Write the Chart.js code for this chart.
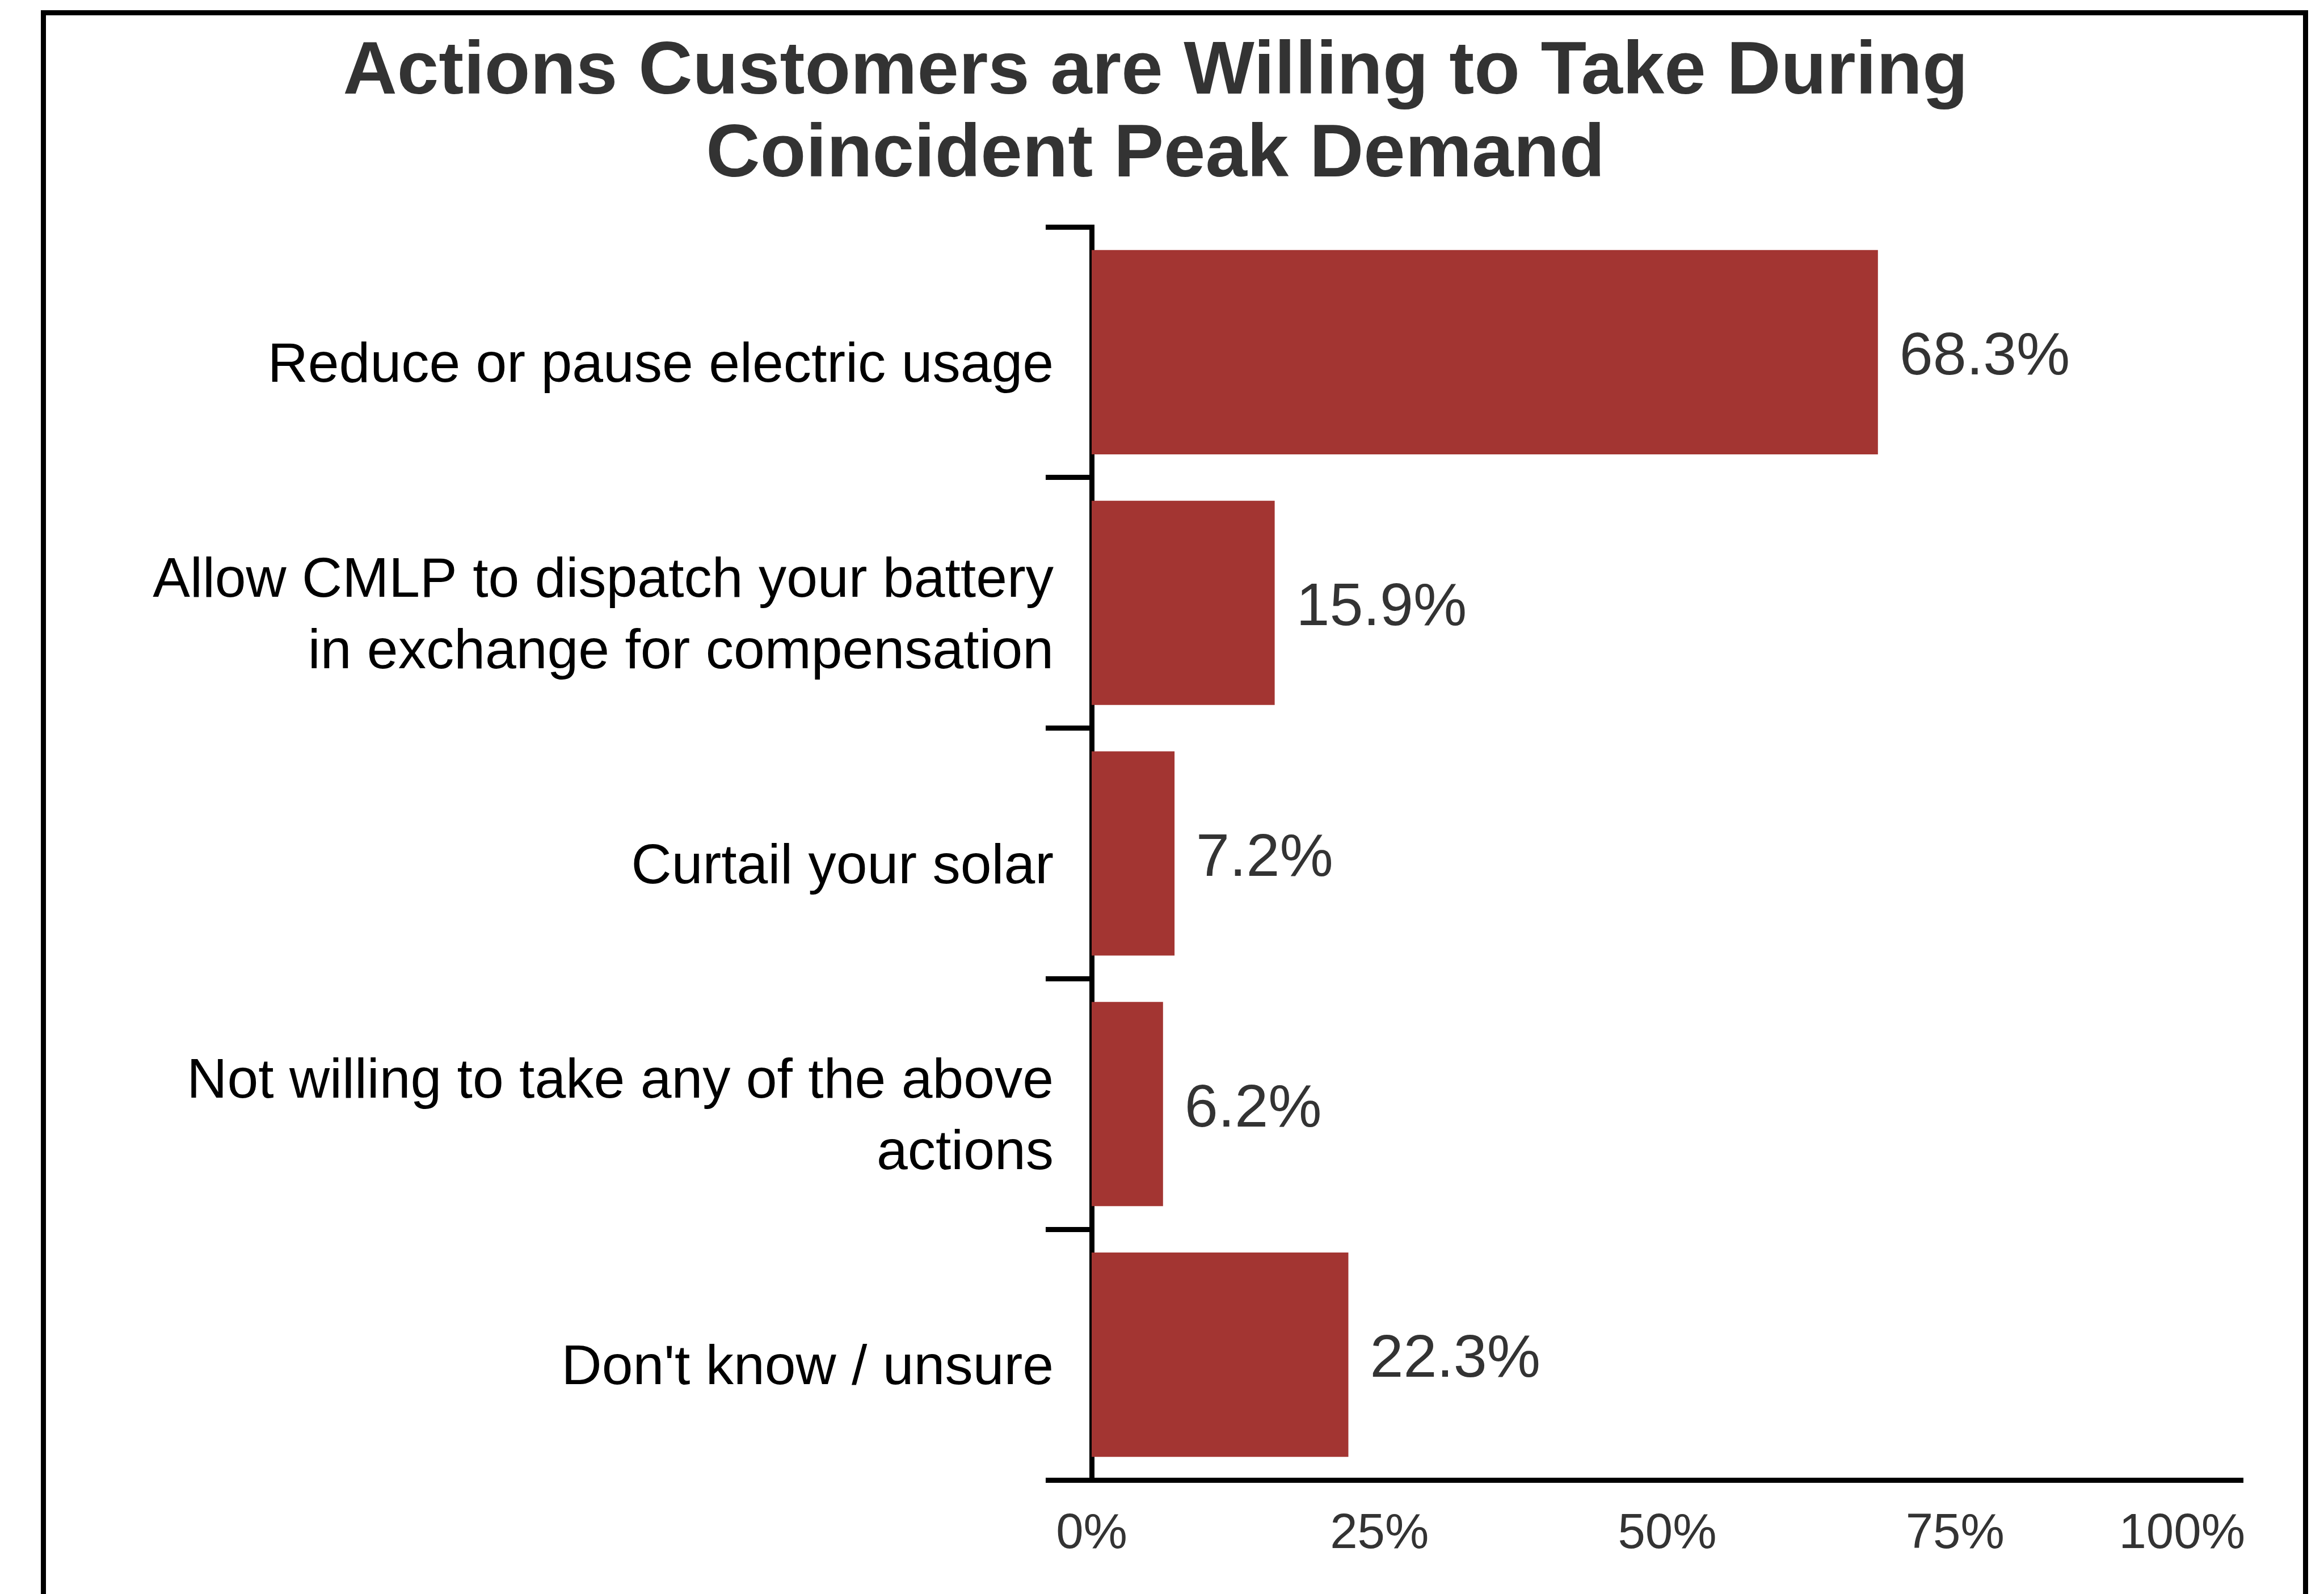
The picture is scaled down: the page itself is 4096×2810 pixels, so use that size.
<!DOCTYPE html>
<html>
<head>
<meta charset="utf-8">
<script src="https://cdn.jsdelivr.net/npm/chart.js@4.4.1/dist/chart.umd.min.js"></script>
<style>
  html, body { margin: 0; padding: 0; background: #ffffff; }
  #wrap { width: 4096px; height: 2810px; }
</style>
</head>
<body>
<div id="wrap"><canvas id="chart" width="4096" height="2810"></canvas></div>
<script>
// Survey results: share of customers willing to take each action
const titleLines = ['Actions Customers are Willing to Take During', 'Coincident Peak Demand'];
const categories = [
  'Reduce or pause electric usage',
  ['Allow CMLP to dispatch your battery', 'in exchange for compensation'],
  'Curtail your solar',
  ['Not willing to take any of the above', 'actions'],
  "Don't know / unsure"
];
const shares = [68.3, 15.9, 7.2, 6.2, 22.3];
const axisTicks = [0, 25, 50, 75, 100];
const axisTickLabels = ['0%', '25%', '50%', '75%', '100%'];

// Layout (px)
const FONT = "'Liberation Sans', Arial, Helvetica, sans-serif";
const PLOT_LEFT = 1924, PLOT_RIGHT = 3953, PLOT_TOP = 400, PLOT_BOTTOM = 2609;
const PAD_LEFT = 120, PAD_TOP = 56;
const TITLE_SIZE = 132, TITLE_LH = 146;
const X_TICK_SIZE = 87, X_TICK_PAD = 44, X_TICK_LH = 1.2;
const BAR_COLOR = '#A33532';
const LINE_W = 9;

Chart.defaults.font.family = FONT;

// White page with a black frame that runs off the bottom edge
const framePlugin = {
  id: 'frame',
  beforeDraw(chart) {
    const ctx = chart.ctx;
    ctx.save();
    ctx.fillStyle = '#ffffff';
    ctx.fillRect(0, 0, chart.width, chart.height);
    ctx.strokeStyle = '#000000';
    ctx.lineWidth = LINE_W;
    ctx.strokeRect(76.5, 22.5, 4063.5 - 76.5, 3200);
    ctx.restore();
  }
};

// Percentage labels at the end of each bar, plus the last axis label kept inside the axis
const valueLabelPlugin = {
  id: 'valueLabels',
  afterDatasetsDraw(chart) {
    const ctx = chart.ctx;
    const meta = chart.getDatasetMeta(0);
    ctx.save();
    ctx.font = `106px ${FONT}`;
    ctx.fillStyle = '#333333';
    ctx.textAlign = 'left';
    ctx.textBaseline = 'middle';
    meta.data.forEach((bar, i) => {
      ctx.fillText(shares[i].toFixed(1) + '%', bar.x + 38, bar.y + 10);
    });
    ctx.restore();
  },
  afterDraw(chart) {
    const xs = chart.scales.x;
    const last = xs.ticks[xs.ticks.length - 1];
    const ctx = chart.ctx;
    ctx.save();
    ctx.font = `${X_TICK_SIZE}px ${FONT}`;
    ctx.fillStyle = '#333333';
    ctx.textAlign = 'right';
    ctx.textBaseline = 'middle';
    ctx.fillText(axisTickLabels[axisTicks.indexOf(last.value)], xs.right + 4,
      xs.top + X_TICK_PAD + X_TICK_SIZE * X_TICK_LH / 2);
    ctx.restore();
  }
};

new Chart(document.getElementById('chart'), {
  type: 'bar',
  data: {
    labels: categories,
    datasets: [{
      data: shares,
      backgroundColor: BAR_COLOR,
      borderWidth: 0,
      barPercentage: 0.815,
      categoryPercentage: 1.0
    }]
  },
  options: {
    indexAxis: 'y',
    responsive: false,
    devicePixelRatio: 1,
    animation: false,
    layout: {
      padding: { left: PAD_LEFT, right: 4096 - PLOT_RIGHT, top: PAD_TOP, bottom: 0 }
    },
    plugins: {
      legend: { display: false },
      tooltip: { enabled: false },
      title: {
        display: true,
        text: titleLines,
        color: '#333333',
        font: { size: TITLE_SIZE, weight: 'bold', lineHeight: TITLE_LH / TITLE_SIZE },
        padding: { top: 0, bottom: PLOT_TOP - PAD_TOP - 2 * TITLE_LH }
      }
    },
    scales: {
      x: {
        min: axisTicks[0],
        max: axisTicks[axisTicks.length - 1],
        afterBuildTicks(scale) {
          scale.ticks = axisTicks.map(v => ({ value: v }));
        },
        afterFit(scale) {
          scale.height = 2810 - PLOT_BOTTOM;
          // the outer tick labels sit inside the frame margins already
          scale.paddingLeft = 0;
          scale.paddingRight = 0;
        },
        grid: { display: false, drawTicks: false },
        border: { display: true, color: '#000000', width: LINE_W },
        ticks: {
          padding: X_TICK_PAD,
          font: { size: X_TICK_SIZE, lineHeight: X_TICK_LH },
          color: (c) => (c.index === axisTicks.length - 1 ? 'rgba(0,0,0,0)' : '#333333'),
          maxRotation: 0,
          autoSkip: false,
          callback: (v) => axisTickLabels[axisTicks.indexOf(v)]
        }
      },
      y: {
        afterFit(scale) { scale.width = PLOT_LEFT - PAD_LEFT; },
        grid: {
          display: true,
          offset: true,
          drawOnChartArea: false,
          drawTicks: true,
          tickLength: 81,
          lineWidth: LINE_W,
          color: '#000000'
        },
        border: { display: true, color: '#000000', width: LINE_W },
        ticks: {
          padding: -14,
          labelOffset: 25,
          color: '#000000',
          autoSkip: false,
          font: { size: 98.5, lineHeight: 1.28 }
        }
      }
    }
  },
  plugins: [framePlugin, valueLabelPlugin]
});
</script>
</body>
</html>
